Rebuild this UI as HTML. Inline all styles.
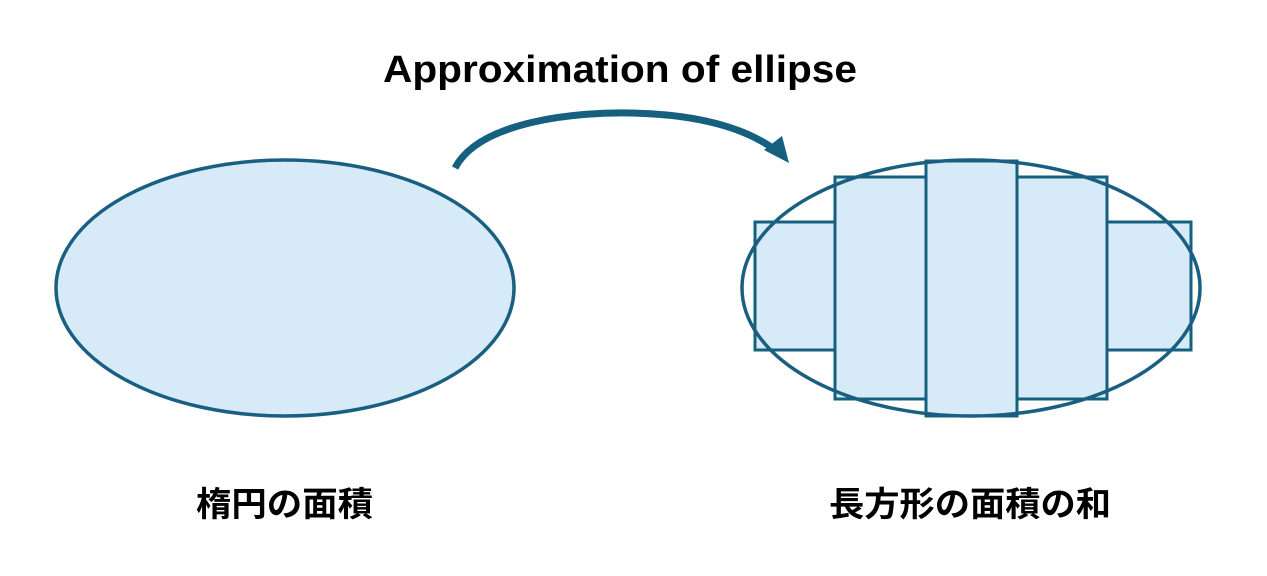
<!DOCTYPE html>
<html><head><meta charset="utf-8"><style>
body{margin:0;background:#fff;}
svg{display:block;}
text{font-family:"Liberation Sans","Noto Sans CJK JP",sans-serif;font-weight:bold;fill:#000;}
</style></head><body>
<svg width="1267" height="576" viewBox="0 0 1267 576">
<text x="383" y="82" font-size="38" textLength="474" lengthAdjust="spacingAndGlyphs">Approximation of ellipse</text>
<ellipse cx="285" cy="288" rx="229" ry="128" fill="#d6ebf7" stroke="#1a5f82" stroke-width="3.5"/>
<path d="M455 168 C480 120 580 112 630 113 C690 114 740 125 774 149" fill="none" stroke="#15607f" stroke-width="7"/>
<polygon points="764,150 782,136 789,163" fill="#15607f"/>
<g fill="#d6ebf7" stroke="#15607f" stroke-width="3">
<rect x="755" y="222" width="80" height="128"/>
<rect x="1107" y="222" width="84" height="128"/>
<rect x="835" y="177" width="91" height="222"/>
<rect x="1017" y="177" width="90" height="222"/>
<rect x="926" y="161" width="91" height="255"/>
</g>
<ellipse cx="971" cy="288" rx="229" ry="128" fill="none" stroke="#1a5f82" stroke-width="3.5"/>
<text x="196" y="516" font-size="34" textLength="177" lengthAdjust="spacingAndGlyphs">楕円の面積</text>
<text x="829" y="516" font-size="34" textLength="282" lengthAdjust="spacingAndGlyphs">長方形の面積の和</text>
</svg>
</body></html>
